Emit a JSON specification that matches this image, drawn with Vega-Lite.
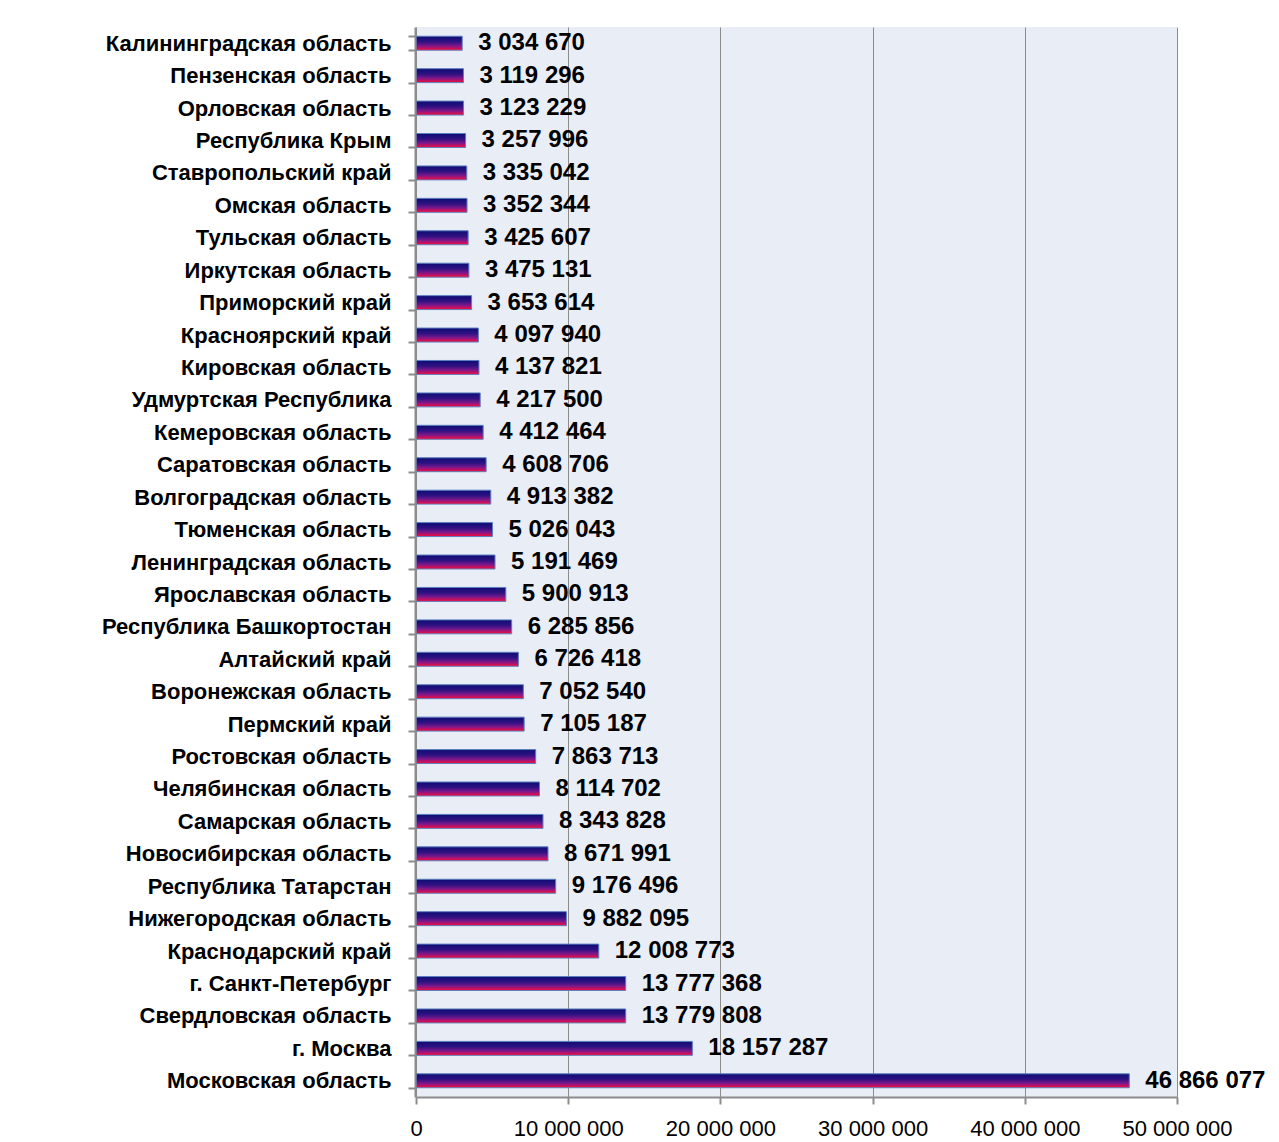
{
  "$schema": "https://vega.github.io/schema/vega-lite/v6.json",
  "width": 761,
  "height": 1070,
  "autosize": "none",
  "padding": {"left": 416, "top": 27, "right": 102, "bottom": 45},
  "background": "white",
  "data": {"values": [
    {"region": "Калининградская область", "value": 3034670},
    {"region": "Пензенская область", "value": 3119296},
    {"region": "Орловская область", "value": 3123229},
    {"region": "Республика Крым", "value": 3257996},
    {"region": "Ставропольский край", "value": 3335042},
    {"region": "Омская область", "value": 3352344},
    {"region": "Тульская область", "value": 3425607},
    {"region": "Иркутская область", "value": 3475131},
    {"region": "Приморский край", "value": 3653614},
    {"region": "Красноярский край", "value": 4097940},
    {"region": "Кировская область", "value": 4137821},
    {"region": "Удмуртская Республика", "value": 4217500},
    {"region": "Кемеровская область", "value": 4412464},
    {"region": "Саратовская область", "value": 4608706},
    {"region": "Волгоградская область", "value": 4913382},
    {"region": "Тюменская область", "value": 5026043},
    {"region": "Ленинградская область", "value": 5191469},
    {"region": "Ярославская область", "value": 5900913},
    {"region": "Республика Башкортостан", "value": 6285856},
    {"region": "Алтайский край", "value": 6726418},
    {"region": "Воронежская область", "value": 7052540},
    {"region": "Пермский край", "value": 7105187},
    {"region": "Ростовская область", "value": 7863713},
    {"region": "Челябинская область", "value": 8114702},
    {"region": "Самарская область", "value": 8343828},
    {"region": "Новосибирская область", "value": 8671991},
    {"region": "Республика Татарстан", "value": 9176496},
    {"region": "Нижегородская область", "value": 9882095},
    {"region": "Краснодарский край", "value": 12008773},
    {"region": "г. Санкт-Петербург", "value": 13777368},
    {"region": "Свердловская область", "value": 13779808},
    {"region": "г. Москва", "value": 18157287},
    {"region": "Московская область", "value": 46866077}
  ]},
  "encoding": {
    "y": {
      "field": "region", "type": "nominal", "sort": {"field": "value", "order": "ascending"},
      "scale": {"paddingInner": 0.57, "paddingOuter": 0.285},
      "axis": {
        "title": null, "tickBand": "extent", "tickSize": 7, "tickColor": "#8c8c8c", "tickWidth": 2,
        "domainColor": "#8c8c8c", "domainWidth": 2, "labelPadding": 17, "offset": 1, "zindex": 1,
        "labelFont": "Liberation Sans", "labelFontWeight": "bold", "labelFontSize": 22, "labelColor": "black",
        "labelLimit": 400
      }
    },
    "x": {
      "field": "value", "type": "quantitative",
      "scale": {"domain": [0, 50000000], "nice": false},
      "axis": {
        "title": null, "values": [0, 10000000, 20000000, 30000000, 40000000, 50000000], "format": ",d",
        "grid": true, "gridColor": "#8c8c8c", "gridWidth": 1, "labelOverlap": false, "labelFlush": false,
        "tickSize": 7, "tickColor": "#8c8c8c", "tickWidth": 2, "domainColor": "#8c8c8c", "domainWidth": 2,
        "labelPadding": 14, "labelFont": "Liberation Sans", "labelFontSize": 22, "labelColor": "black"
      }
    }
  },
  "layer": [
    {
      "mark": {
        "type": "bar", "stroke": "#5b7fbf", "strokeWidth": 1,
        "color": {"gradient": "linear", "x1": 0, "y1": 0, "x2": 0, "y2": 1,
          "stops": [
            {"offset": 0, "color": "#0e0c74"},
            {"offset": 0.4, "color": "#301282"},
            {"offset": 0.7, "color": "#80188a"},
            {"offset": 1, "color": "#ff0a36"}
          ]}
      }
    },
    {
      "mark": {"type": "text", "align": "left", "baseline": "middle", "dx": 16, "font": "Liberation Sans", "fontWeight": "bold", "fontSize": 24, "color": "black"},
      "encoding": {"text": {"field": "value", "type": "quantitative", "format": ",d"}}
    }
  ],
  "config": {
    "locale": {"number": {"decimal": ",", "thousands": " ", "grouping": [3], "currency": ["", ""]}},
    "view": {"fill": "#e9edf6", "stroke": null}
  }
}
